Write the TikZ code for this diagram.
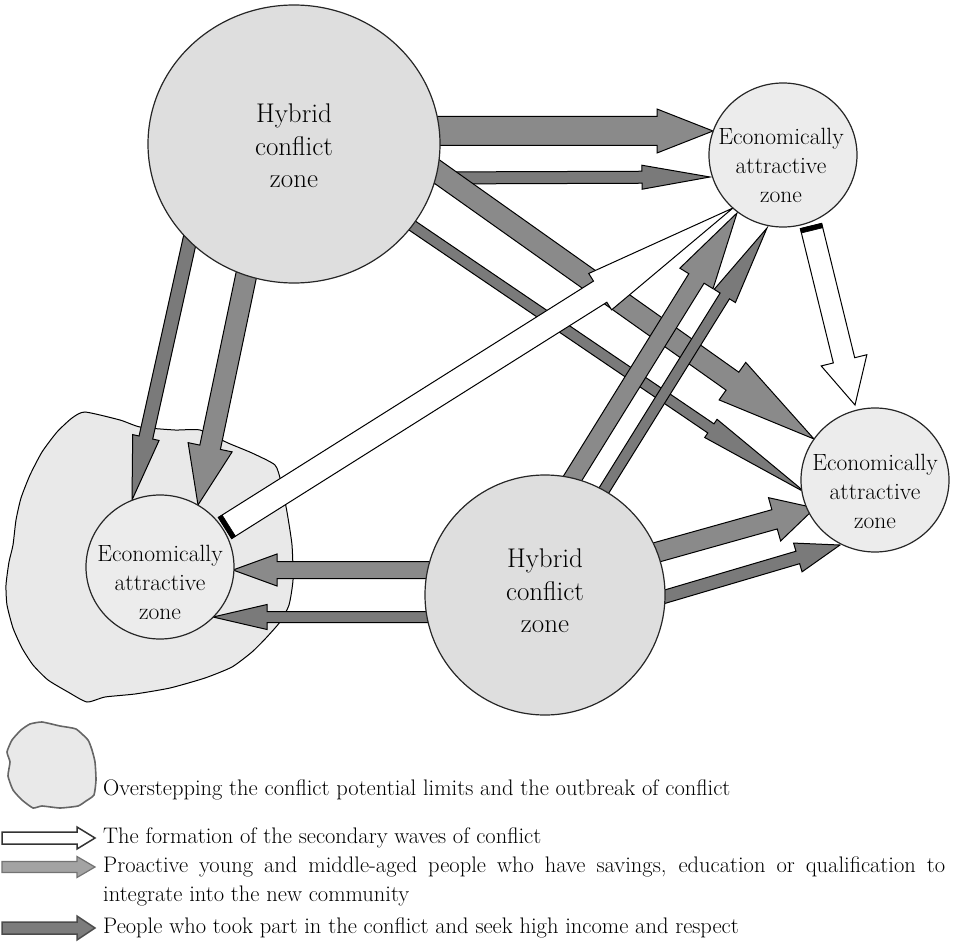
\documentclass[tikz,border=0pt]{standalone}
\usepackage{fontspec}
\usetikzlibrary{calc,shapes.geometric}
\definecolor{hfill}{HTML}{DEDEDE}
\definecolor{efill}{HTML}{ECECEC}
\definecolor{blobfill}{HTML}{E9E9E9}
\definecolor{grayA}{HTML}{8A8A8A}
\definecolor{grayB}{HTML}{7A7A7A}
\definecolor{legA}{HTML}{A3A3A3}
\definecolor{legB}{HTML}{7C7C7C}
\tikzset{
 hzone/.style={ellipse, draw=black!85, line width=1.2pt, fill=hfill, inner sep=0pt},
 ezone/.style={ellipse, draw=black!85, line width=1.2pt, fill=efill, inner sep=0pt},
 htext/.style={align=center, font=\fontsize{27}{32.5}\selectfont, inner sep=0pt},
 etext/.style={align=center, font=\fontsize{23.5}{29}\selectfont, inner sep=0pt},
 pro/.style={fill=grayA, draw=black, line width=1pt, line join=miter},
 ppl/.style={fill=grayB, draw=black, line width=1pt, line join=miter},
 wave/.style={fill=white, draw=black, line width=1pt, line join=miter},
 legwave/.style={fill=white, draw=black!80, line width=1.5pt},
 legpro/.style={fill=legA, draw=black!55, line width=1.2pt},
 legppl/.style={fill=legB, draw=black!70, line width=1.5pt},
 capbar/.style={fill=black, draw=black, line width=0.6pt},
 blob/.style={fill=blobfill, draw=black, line width=1pt},
 legblob/.style={fill=blobfill, draw=black!60, line width=1.6pt},
 legtext/.style={anchor=base west, inner sep=0pt, font=\fontsize{22.5}{28}\selectfont},
}
% block arrow: style, tail, tip, shaft half width, head half width, head length
\newcommand\barrow[6]{%
  \coordinate (hb) at ($(#3)!#6pt!(#2)$);
  \draw[#1] ($(#2)!#4pt!90:(#3)$) -- ($(hb)!#4pt!90:(#3)$) -- ($(hb)!#5pt!90:(#3)$) -- (#3)
    -- ($(hb)!#5pt!-90:(#3)$) -- ($(hb)!#4pt!-90:(#3)$) -- ($(#2)!#4pt!-90:(#3)$) -- cycle;
}
% dark cap at the tail: tail, tip, half width, thickness
\newcommand\bcap[4]{%
  \coordinate (ce) at ($(#1)!#4pt!(#2)$);
  \draw[capbar] ($(#1)!#3pt!90:(#2)$) -- ($(#1)!#3pt!-90:(#2)$) -- ($(ce)!#3pt!-90:(#2)$) -- ($(ce)!#3pt!90:(#2)$) -- cycle;
}
\begin{document}
\begin{tikzpicture}[x=1pt,y=-1pt]
\useasboundingbox (0,0) rectangle (956,947);
% conflict area
\draw[blob] plot[smooth cycle, tension=0.35] coordinates {
 (85,412) (120,420) (140,427) (175,430) (200,430) (228,443) (252,453) (275,465) (281,482)
 (287,512) (292,545) (293,580) (289,605) (280,622) (266,638) (252,652) (232,667) (205,678)
 (170,688) (135,694) (105,697) (87,702) (68,692) (48,680) (33,665) (22,648) (13,628)
 (7,605) (6,585) (9,562) (13,545) (16,520) (21,498) (30,475) (42,452) (57,432) (72,418)};

% arrow end points
\coordinate (a1s) at (425,131);  \coordinate (a1e) at (713,131);
\coordinate (a2s) at (425,178);  \coordinate (a2e) at (710,177);
\coordinate (a3s) at (429,166);  \coordinate (a3e) at (814,439);
\coordinate (a4s) at (404,220);  \coordinate (a4e) at (806,493);
\coordinate (a5s) at (811,226);  \coordinate (a5e) at (855,405);
\coordinate (a6s) at (225,528);  \coordinate (a6e) at (733,208);
\coordinate (a7s) at (566,489);  \coordinate (a7e) at (737,213);
\coordinate (a8s) at (598,500);  \coordinate (a8e) at (767,228);
\coordinate (a9s) at (640,557);  \coordinate (a9e) at (815,508);
\coordinate (a10s) at (657,599); \coordinate (a10e) at (840,545);
\coordinate (a11s) at (437,570); \coordinate (a11e) at (233,570);
\coordinate (a12s) at (437,617); \coordinate (a12e) at (213,617);
\coordinate (a13s) at (192,230); \coordinate (a13e) at (132,500);
\coordinate (a14s) at (249,262); \coordinate (a14e) at (198,505);

\barrow{pro}{a1s}{a1e}{14.5}{22}{56}
\barrow{ppl}{a2s}{a2e}{6}{12}{68}
\barrow{pro}{a3s}{a3e}{11}{23}{100}
\barrow{ppl}{a4s}{a4e}{5.5}{11}{115}
\barrow{wave}{a6s}{a6e}{12.5}{21.5}{157}
\bcap{a6s}{a6e}{12.5}{4.5}
\barrow{pro}{a7s}{a7e}{9}{19.5}{77}
\barrow{ppl}{a8s}{a8e}{5.5}{12.5}{80}
\barrow{wave}{a5s}{a5e}{11}{23.5}{46}
\bcap{a5s}{a5e}{11}{4.5}
\barrow{pro}{a9s}{a9e}{10}{22.5}{42}
\barrow{ppl}{a10s}{a10e}{6.5}{15}{44}
\barrow{pro}{a11s}{a11e}{8.5}{16}{44}
\barrow{ppl}{a12s}{a12e}{5.5}{12.5}{54}
\barrow{ppl}{a13s}{a13e}{7}{13.5}{64}
\barrow{pro}{a14s}{a14e}{10.5}{22.5}{59}

% zones
\node[hzone, minimum width=292pt, minimum height=278pt] (h1) at (294,144) {};
\node[hzone, minimum width=240pt, minimum height=240pt] (h2) at (545,595) {};
\node[ezone, minimum width=148pt, minimum height=144pt] (e1) at (783,155) {};
\node[ezone, minimum width=148pt, minimum height=144pt] (e2) at (875,480) {};
\node[ezone, minimum width=148pt, minimum height=144pt] (e3) at (160,567) {};
\node[htext] (h1t) at (294,146) {Hybrid\\conflict\\zone};
\node[htext] (h2t) at (545,591) {Hybrid\\conflict\\zone};
\node[etext] (e1t) at (781,165) {Economically\\attractive\\zone};
\node[etext] (e2t) at (875,491) {Economically\\attractive\\zone};
\node[etext] (e3t) at (160,582) {Economically\\attractive\\zone};

% legend
\draw[legblob] plot[smooth cycle, tension=0.3] coordinates {
 (30,724) (42,722) (60,726) (76,729) (88,740) (92,750) (95,762) (96,780) (94,795)
 (86,801) (78,806) (60,808) (42,806) (33,808) (22,800) (13,790) (8,776) (10,762)
 (7,752) (12,740) (21,730)};
\node[legtext] (t1) at (103,795) {Overstepping the conflict potential limits and the outbreak of conflict};
\coordinate (l1s) at (2,838); \coordinate (l1e) at (95,838);
\coordinate (l2s) at (2,867); \coordinate (l2e) at (95,867);
\coordinate (l3s) at (2,928); \coordinate (l3e) at (95,928);
\barrow{legwave}{l1s}{l1e}{6}{11}{18}
\barrow{legpro}{l2s}{l2e}{5.5}{10.5}{18}
\barrow{legppl}{l3s}{l3e}{6}{12}{18}
\node[legtext] (t2) at (103,843) {The formation of the secondary waves of conflict};
\node[legtext] (t3) at (103,872) {\makebox[842pt][s]{Proactive young and middle-aged people who have savings, education or qualification to}};
\node[legtext] (t4) at (103,901) {integrate into the new community};
\node[legtext] (t5) at (103,933) {People who took part in the conflict and seek high income and respect};
\end{tikzpicture}
\end{document}
